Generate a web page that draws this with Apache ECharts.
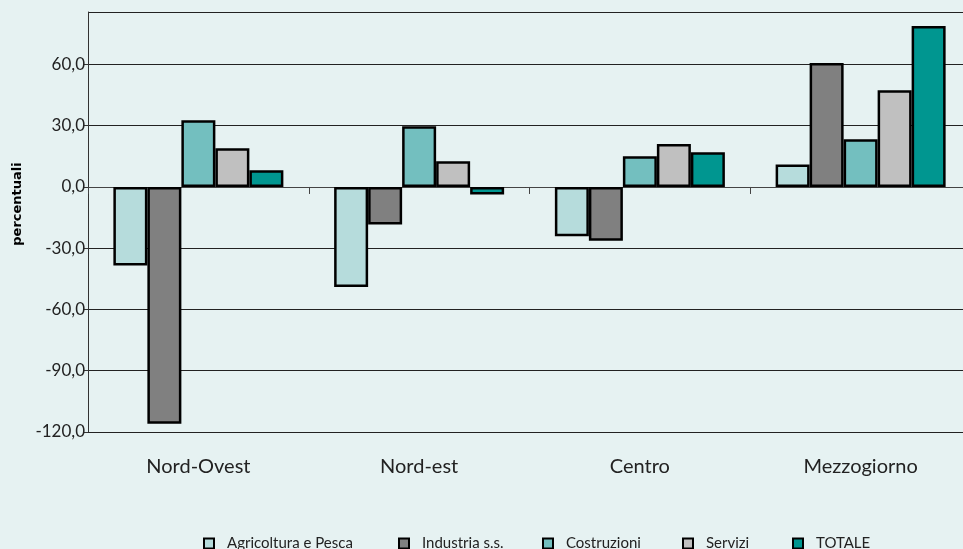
<!DOCTYPE html>
<html>
<head>
<meta charset="utf-8">
<script src="https://cdn.jsdelivr.net/npm/echarts@6/dist/echarts.min.js"></script>
<style>
html,body{margin:0;padding:0;background:#e6f2f2;}
#chart{width:963px;height:549px;}
</style>
</head>
<body>
<div id="chart"></div>
<script>
var categories = ["Nord-Ovest", "Nord-est", "Centro", "Mezzogiorno"];
var seriesNames = ["Agricoltura e Pesca", "Industria s.s.", "Costruzioni", "Servizi", "TOTALE"];
var agricoltura = [-38.5, -49.0, -24.1, 11.0];
var industria = [-115.9, -18.4, -26.3, 60.7];
var costruzioni = [32.7, 29.7, 15.0, 23.4];
var servizi = [19.0, 12.6, 21.0, 47.4];
var totale = [8.2, -3.7, 17.0, 78.9];
var colors = ["#b6dcdc", "#808080", "#73bfbf", "#c0c0c0", "#009690"];
var legendLeft = [198, 393, 537, 677, 787];

var values = [agricoltura, industria, costruzioni, servizi, totale];
var fontFam = "Lato, 'Noto Sans', sans-serif";

var series = [], legends = [];
for (var i = 0; i < values.length; i++) {
	series.push({
		name: seriesNames[i],
		type: "bar",
		barWidth: 34,
		barGap: "0%",
		itemStyle: {color: colors[i], borderColor: "#000", borderWidth: 2.5},
		data: values[i]
	});
	legends.push({
		data: [{name: seriesNames[i], icon: "rect"}],
		left: legendLeft[i],
		top: 531,
		itemWidth: 10,
		itemHeight: 10,
		itemGap: 10,
		selectedMode: false,
		itemStyle: {borderWidth: 2},
		textStyle: {fontFamily: fontFam, fontSize: 15, color: "#222", padding: [0, 0, 0, 8]}
	});
}

var chart = echarts.init(document.getElementById("chart"));
chart.setOption({
	backgroundColor: "#e6f2f2",
	animation: false,
	grid: {left: 88, top: 12, width: 883, height: 420, containLabel: false, outerBoundsMode: "none"},
	legend: legends,
	xAxis: [{
		// labels along the bottom
		type: "category",
		data: categories,
		position: "bottom",
		axisLine: {show: false, onZero: false},
		axisTick: {show: false},
		axisLabel: {margin: 25, fontFamily: fontFam, fontSize: 20, color: "#222"}
	}, {
		// the zero line with its category ticks
		type: "category",
		data: categories,
		position: "top",
		axisLine: {show: true, onZero: true, lineStyle: {color: "#444", width: 1}},
		axisTick: {show: true, inside: true, length: 7, lineStyle: {color: "#444"}},
		axisLabel: {show: false}
	}],
	yAxis: {
		type: "value",
		min: -120,
		max: 85.7,
		interval: 30,
		name: "percentuali",
		nameLocation: "middle",
		nameGap: 54,
		nameTextStyle: {fontFamily: "'DejaVu Sans', sans-serif", fontWeight: "bold", fontSize: 13, color: "#000", padding: [0, 0, 0, 36]},
		axisLine: {show: true, lineStyle: {color: "#333"}},
		axisTick: {show: true, length: 4, lineStyle: {color: "#333"}},
		axisLabel: {
			margin: 3,
			showMaxLabel: false,
			fontFamily: fontFam,
			fontSize: 17,
			color: "#222",
			formatter: function(v){ return v.toFixed(1).replace(".", ","); }
		},
		splitLine: {show: true, lineStyle: {color: "#222", width: 1}}
	},
	series: series
});
</script>
</body>
</html>
